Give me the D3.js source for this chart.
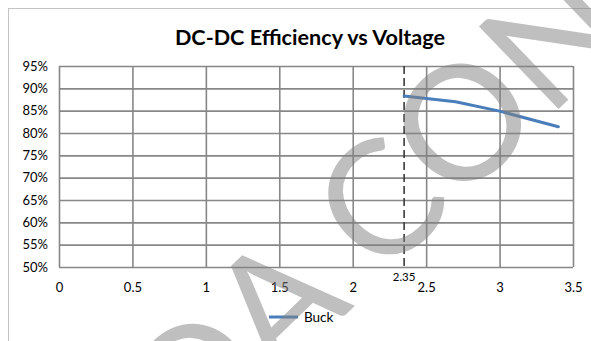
<!DOCTYPE html>
<html>
<head>
<meta charset="utf-8">
<script src="https://cdn.jsdelivr.net/npm/d3@7"></script>
<style>
  html, body { margin: 0; padding: 0; background: #fff; }
  svg { display: block; }
  text { font-family: Lato, "Liberation Sans", sans-serif; fill: #000; }
</style>
</head>
<body>
<svg id="chart" width="591" height="341"></svg>
<script>
// Buck converter efficiency measurements
const voltage = [2.35, 2.7, 3.0, 3.4];
const efficiency = [88.3, 87.0, 84.9, 81.4];

const xTicks = [0, 0.5, 1, 1.5, 2, 2.5, 3, 3.5];
const yTicks = [50, 55, 60, 65, 70, 75, 80, 85, 90, 95];
const markerVoltage = 2.35;      // minimum operating voltage marker
const seriesName = "Buck";
const chartTitle = "DC-DC Efficiency vs Voltage";
const watermarkText = "NDA CONFIDENTIAL";

const svg = d3.select("#chart");
const W = 591, H = 341;
const plot = { left: 59, top: 66, right: 573, bottom: 267 };

const x = d3.scaleLinear().domain([0, 3.5]).range([plot.left, plot.right]);
const y = d3.scaleLinear().domain([50, 95]).range([plot.bottom, plot.top]);

// Chart frame
svg.append("rect")
  .attr("x", 8.5).attr("y", 8.5)
  .attr("width", W + 20).attr("height", H + 20)
  .attr("fill", "#fff").attr("stroke", "#c4c4c4").attr("stroke-width", 1);

// Title
svg.append("text")
  .attr("x", 310).attr("y", 45)
  .attr("text-anchor", "middle")
  .attr("font-weight", "bold")
  .attr("font-size", 21.6)
  .text(chartTitle);

const gridColor = "#878787";

// Horizontal gridlines with percent labels
const yAxis = d3.axisLeft(y)
  .tickValues(yTicks)
  .tickSize(-(plot.right - plot.left))
  .tickPadding(11)
  .tickFormat(d => d + "%");
const gy = svg.append("g").attr("transform", `translate(${plot.left},0)`).call(yAxis);
gy.select(".domain").remove();
gy.selectAll(".tick line").attr("stroke", gridColor).attr("stroke-width", 1.6);
gy.selectAll(".tick text").attr("font-size", 13).attr("font-family", "Lato, sans-serif").attr("fill", "#000");

// Vertical gridlines with voltage labels
const xAxis = d3.axisBottom(x)
  .tickValues(xTicks)
  .tickSize(-(plot.bottom - plot.top))
  .tickPadding(16)
  .tickFormat(d3.format("~g"));
const gx = svg.append("g").attr("transform", `translate(0,${plot.bottom})`).call(xAxis);
gx.select(".domain").remove();
gx.selectAll(".tick line").attr("stroke", gridColor).attr("stroke-width", 1.6);
gx.selectAll(".tick text").attr("font-size", 13).attr("font-family", "Lato, sans-serif").attr("fill", "#000");

// Marker at minimum voltage
svg.append("line")
  .attr("x1", x(markerVoltage)).attr("x2", x(markerVoltage))
  .attr("y1", y(95)).attr("y2", y(50))
  .attr("stroke", "#3a3a3a").attr("stroke-width", 1.6)
  .attr("stroke-dasharray", "8,4");
svg.append("text")
  .attr("x", x(markerVoltage)).attr("y", plot.bottom + 14)
  .attr("text-anchor", "middle")
  .attr("font-size", 11.5)
  .text(d3.format("~g")(markerVoltage));

// Efficiency curve
const line = d3.line()
  .x((d, i) => x(voltage[i]))
  .y(d => y(d));
svg.append("path")
  .datum(efficiency)
  .attr("d", line)
  .attr("fill", "none")
  .attr("stroke", "#4a7ebb")
  .attr("stroke-width", 3)
  .attr("stroke-linecap", "round")
  .attr("stroke-linejoin", "round");

// Legend
svg.append("line")
  .attr("x1", 269).attr("x2", 298).attr("y1", 317).attr("y2", 317)
  .attr("stroke", "#4a7ebb").attr("stroke-width", 3);
svg.append("text")
  .attr("x", 304).attr("y", 322)
  .attr("font-size", 13.5)
  .text(seriesName);

// Watermark overlay
svg.append("text")
  .attr("transform", "translate(104,548) rotate(-44)")
  .attr("font-family", "'Liberation Sans', Arial, sans-serif")
  .attr("font-size", 160)
  .attr("fill-opacity", 0.5)
  .style("fill", "#808080")
  .text(watermarkText);
</script>
</body>
</html>
